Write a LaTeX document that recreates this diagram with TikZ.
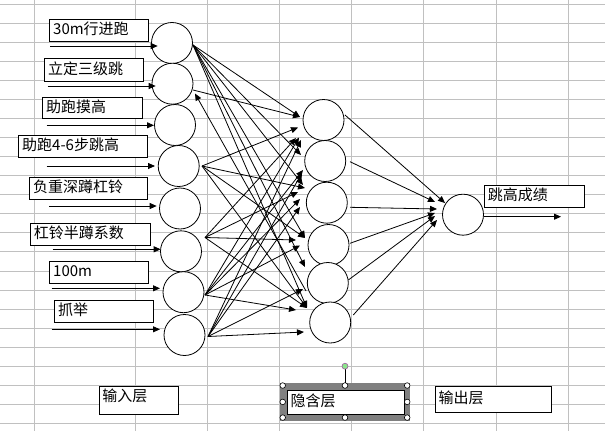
\documentclass[tikz,border=0pt]{standalone}
\usepackage{fontspec}
\setmainfont{Noto Sans CJK SC}
\usetikzlibrary{arrows.meta}
\definecolor{gridc}{RGB}{192,192,192}
\definecolor{selc}{RGB}{128,128,128}
\definecolor{rotfill}{RGB}{140,230,140}
\definecolor{rotdraw}{RGB}{160,90,160}
\begin{document}
\begin{tikzpicture}[x=1pt,y=-1pt,
  arr/.style={-{Triangle[length=7pt,width=6pt]}, line width=0.8pt},
  circ/.style={circle, draw, line width=0.8pt, fill=white, minimum size=41pt, inner sep=0pt},
  lbox/.style={draw, fill=white, line width=0.8pt, anchor=north west, inner xsep=3.5pt, inner ysep=0pt,
    align=left, font=\fontsize{15}{18}\selectfont, text height=11.5pt, text depth=3.1pt},
  topbox/.style={lbox, text height=11.5pt, text depth=8pt},
  handle/.style={draw, fill=white, line width=0.6pt}
]
\useasboundingbox (0,0) rectangle (605,431);
% spreadsheet grid
\begin{scope}
\clip (0,0) rectangle (605,431);
\foreach \k in {0,...,22} \draw[gridc, line width=0.9pt] (0,{4+19.07*\k}) -- (605,{4+19.07*\k});
\foreach \x in {34.3,135,207.2,279.4,351.6,423.8,496,568.2} \draw[gridc, line width=0.9pt] (\x,0) -- (\x,431);
\end{scope}

% input labels
\node[lbox, text width=92pt, minimum height=22.3pt] (b1) at (49.3,19) {30m行进跑};
\node[lbox, text width=92pt, minimum height=22.4pt] (b2) at (44.3,58.3) {立定三级跳};
\node[lbox, text width=92.4pt, minimum height=21.6pt] (b3) at (42.3,96.7) {助跑摸高};
\node[lbox, text width=122pt, minimum height=22pt] (b4) at (18.3,134.7) {助跑4-6步跳高};
\node[lbox, text width=111pt, minimum height=22pt] (b5) at (29.3,177.3) {负重深蹲杠铃};
\node[lbox, text width=113pt, minimum height=22.6pt] (b6) at (30,222.7) {杠铃半蹲系数};
\node[lbox, text width=92pt, minimum height=22.3pt] (b7) at (49.3,261) {100m};
\node[lbox, text width=92pt, minimum height=22.3pt] (b8) at (54.3,300) {抓举};
\node[lbox, text width=93pt, minimum height=22.3pt] (bo) at (484,185) {跳高成绩};

% layer labels
\node[topbox, text width=72.7pt, minimum height=28.5pt] (l1) at (98.5,385.5) {输入层};
\fill[selc] (280.3,382.7) rectangle (409.6,421);
\node[lbox, text width=110.8pt, minimum height=24.3pt] (l2) at (286.6,389.7) {隐含层};
\node[lbox, text width=109.5pt, minimum height=26.2pt] (l3) at (434.8,385.5) {输出层};
% selection handles
\foreach \p in {(282.7,385.5),(345,385.5),(407.2,385.5),(282.7,401.9),(407.2,401.9),(282.7,417.6),(345,417.6),(407.2,417.6)}
  \draw[handle] \p circle (2.8pt);
\coordinate (rotb) at (345,382.7);
\coordinate (rott) at (345,369.2);
\draw[line width=0.8pt] (rotb) -- (rott);
\draw[draw=rotdraw, fill=rotfill, line width=0.6pt] (345,366.2) circle (3pt);

% neurons
\node[circ] (i1) at (172,43) {};
\node[circ] (i2) at (172.5,83.7) {};
\node[circ] (i3) at (175,125) {};
\node[circ] (i4) at (178.7,166) {};
\node[circ] (i5) at (180,208.5) {};
\node[circ] (i6) at (181,251.3) {};
\node[circ] (i7) at (183.5,292.2) {};
\node[circ] (i8) at (184.5,335) {};
\node[circ] (h1) at (323.5,120) {};
\node[circ] (h2) at (325.2,161) {};
\node[circ] (h3) at (326.8,202.7) {};
\node[circ] (h4) at (328.5,245) {};
\node[circ] (h5) at (327.8,283) {};
\node[circ] (h6) at (330.2,322.5) {};
\node[circ] (o) at (463,214.7) {};

% input arrows
\coordinate (a1) at (50,46);     \coordinate (e1) at (157.7,46);
\coordinate (a2) at (47.7,86);   \coordinate (e2) at (155.7,86);
\coordinate (a3) at (46.7,125.3);\coordinate (e3) at (154,125.3);
\coordinate (a4) at (46.7,166);  \coordinate (e4) at (155,166);
\coordinate (a5) at (49,206);    \coordinate (e5) at (156.7,206);
\coordinate (a6) at (52.7,249.3);\coordinate (e6) at (160.7,249.3);
\coordinate (a7) at (51.7,288.3);\coordinate (e7) at (160,288.3);
\coordinate (a8) at (51.7,329.3);\coordinate (e8) at (160,329.3);
\foreach \n in {1,...,8} \draw[arr] (a\n) -- (e\n);

% input -> hidden
\coordinate (s1) at (193,45);
\coordinate (s2) at (193,90);
\coordinate (s4) at (202,166);
\coordinate (s6) at (205,237.5);
\coordinate (s7) at (205,295);
\coordinate (s8) at (208,336.5);
\coordinate (t11) at (300,117);
\coordinate (t12) at (298,127.5);
\coordinate (t13) at (296,138);
\coordinate (t14) at (299,137.5);
\coordinate (t15) at (301,140);
\coordinate (t21) at (301,155);
\coordinate (t22) at (303,170);
\coordinate (t23) at (302,173);
\coordinate (t31) at (303,185);
\coordinate (t3b) at (305,188);
\coordinate (t32) at (298,192);
\coordinate (t33) at (300,199);
\coordinate (t34) at (300,207);
\coordinate (t41) at (305,238);
\coordinate (t42) at (296,240);
\coordinate (t43) at (300,245.5);
\coordinate (t51) at (305,267);
\coordinate (t52) at (303,289);
\coordinate (t61) at (307,308);
\coordinate (t62) at (296,310);
\coordinate (t63) at (304,332);
\coordinate (back0) at (306,291);
\coordinate (back1) at (195,93.5);
\foreach \t in {t11,t21,t31,t41,t51,t61} \draw[arr] (s1) -- (\t);
\draw[arr] (s2) -- (t11);
\draw[arr] (back0) -- (back1);
\foreach \t in {t12,t3b,t41,t61} \draw[arr] (s4) -- (\t);
\foreach \t in {t13,t32,t42,t61} \draw[arr] (s6) -- (\t);
\foreach \t in {t14,t22,t33,t43,t62} \draw[arr] (s7) -- (\t);
\foreach \t in {t15,t23,t34,t52,t63} \draw[arr] (s8) -- (\t);

% hidden -> output
\coordinate (u1) at (345,115);   \coordinate (v1) at (445,203);
\coordinate (u2) at (350,161.7); \coordinate (v2) at (435,202);
\coordinate (u3) at (350,207.3); \coordinate (v3) at (437,209);
\coordinate (u4) at (350,243.3); \coordinate (v4) at (435,213);
\coordinate (u5) at (348.3,280); \coordinate (v5) at (435,216);
\coordinate (u6) at (353.3,315); \coordinate (v6) at (437,220);
\foreach \n in {1,...,6} \draw[arr] (u\n) -- (v\n);

% output arrow
\coordinate (oe) at (561,216.7);
\draw[arr] (o.east |- oe) -- (oe);
\end{tikzpicture}
\end{document}
